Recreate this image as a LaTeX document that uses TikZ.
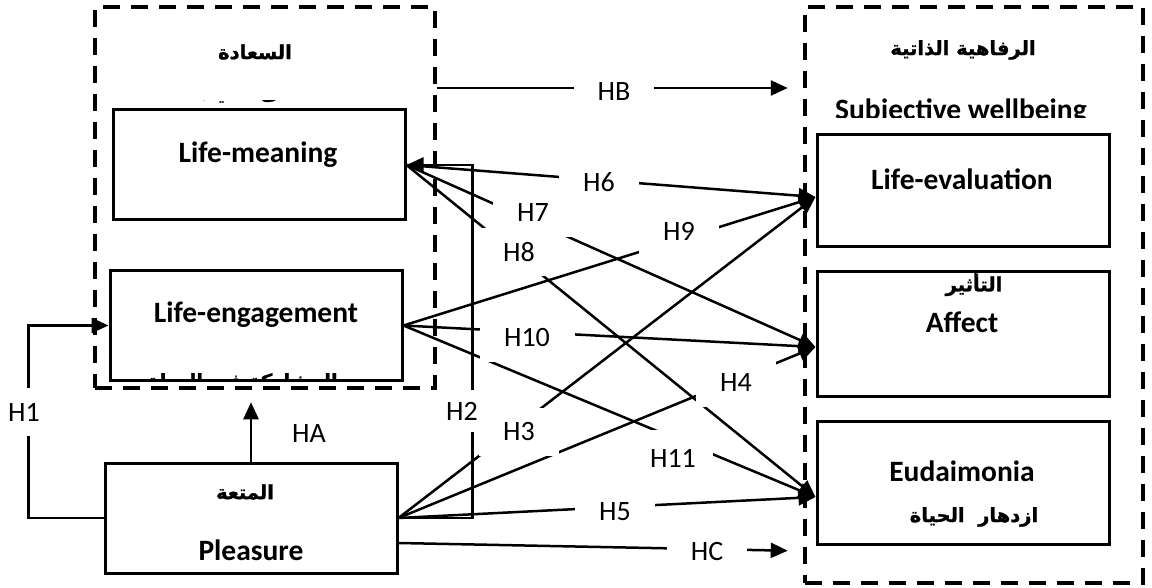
\documentclass[tikz,border=0pt]{standalone}
\usepackage{fontspec}
\setmainfont{Carlito}
\TeXXeTstate=1
\newfontfamily\arabicfont[Script=Arabic, BoldFeatures={FakeBold=1.2}]{DejaVu Sans}
\usetikzlibrary{arrows.meta}
\tikzset{
  box/.style={draw, line width=3pt, fill=white, minimum width=292pt, minimum height=110pt, inner sep=0pt},
  cont/.style={draw, line width=4.5pt, dash pattern=on 17pt off 11pt, inner sep=0pt},
  conn/.style={line width=2.5pt},
  arr/.style={conn, -{Triangle[length=17pt,width=15pt]}},
  hl/.style={fill=white, font=\fontsize{28}{32}\selectfont, minimum width=80pt, minimum height=48pt, inner sep=0pt},
  bl/.style={font=\bfseries\fontsize{29.5}{34}\selectfont, anchor=base, inner sep=0pt},
  ar/.style={font=\arabicfont\bfseries\fontsize{19.5}{23}\selectfont, inner sep=0pt},
}
\begin{document}
\begin{tikzpicture}[x=1pt,y=-1pt]
\useasboundingbox (0,0) rectangle (1152,588);
% containers
\node[cont, minimum width=340pt, minimum height=381pt] (lbox) at (265,197.5) {};
\node[cont, minimum width=338pt, minimum height=576pt] (rbox) at (974,295) {};
% boxes
\node[box] (meaning) at (259,165) {};
\node[box, minimum height=109pt] (engage) at (256,325.5) {};
\node[box] (pleasure) at (251,518) {};
\node[box, minimum height=112pt] (evaluation) at (963,191) {};
\node[box, minimum height=124pt] (affect) at (963,334) {};
\node[box, minimum height=123pt] (eudaimonia) at (963,482.5) {};
% texts in boxes
\node[bl] (tMeaning) at (258,163) {Life-meaning};
\node[bl] (tEngage) at (256,323) {Life-engagement};
\node[bl] (tPleasure) at (251,560) {Pleasure};
\node[bl] (tEval) at (962,190) {Life-evaluation};
\node[bl] (tAffect) at (962,332) {Affect};
\node[bl] (tEud) at (962,481) {Eudaimonia};
\node[ar] (tSaada) at (255,52) {\beginR السعادة\endR};
\node[ar] (tRafah) at (963,50) {\beginR الرفاهية الذاتية\endR};
\node[ar] (tTaath) at (974,284) {\beginR التأثير\endR};
\node[ar] (tIzd) at (974,517) {\beginR ازدهار\ \ الحياة\endR};
\node[ar] (tMut) at (245,492) {\beginR المتعة\endR};
% clipped texts
\begin{scope}
\clip (150,101) rectangle (340,109.5);
\node[ar, anchor=base] (tMana) at (255,99.5) {\beginR معنى الحياة\endR};
\end{scope}
\begin{scope}
\clip (150,366) rectangle (340,378.5);
\node[ar, anchor=base] (tMush) at (243,388) {\beginR المشاركة في الحياة\endR};
\end{scope}
\begin{scope}
\clip (820,80) rectangle (1100,118);
\node[bl] (tSub) at (961,120) {Subjective wellbeing};
\end{scope}
% helper coordinates
\coordinate (hby) at (0,88);
\coordinate (hcy) at (0,551);
% connectors
\draw[arr] (meaning.east) -- ([yshift=-6pt]evaluation.west);
\draw[arr] (meaning.east) -- ([yshift=-13pt]affect.west);
\draw[arr] (meaning.east) -- ([yshift=-14.5pt]eudaimonia.west);
\draw[arr] (engage.east) -- ([yshift=-6pt]evaluation.west);
\draw[arr] (engage.east) -- ([yshift=-13pt]affect.west);
\draw[arr] (engage.east) -- ([yshift=-14.5pt]eudaimonia.west);
\draw[arr] (pleasure.east) -- ([yshift=-6pt]evaluation.west);
\draw[arr] (pleasure.east) -- ([yshift=-13pt]affect.west);
\draw[arr] (pleasure.east) -- ([yshift=-14.5pt]eudaimonia.west);
\draw[arr] (pleasure.east) -| ([xshift=66pt]meaning.east) -- (meaning.east);
\draw[arr] (pleasure.west) -- ++(-75,0) |- (engage.west);
\draw[arr, shorten >=12pt] (pleasure.north) -- (pleasure.north |- lbox.south);
\draw[arr, shorten >=15pt] (lbox.east |- hby) -- (rbox.west |- hby);
\draw[arr, shorten >=15pt] ([yshift=-25pt]pleasure.east) -- (rbox.west |- hcy);
% labels
\node[hl] (lH6) at (599,182) {H6};
\node[hl] (lH7) at (533,213) {H7};
\node[hl] (lH8) at (519,252) {H8};
\node[hl] (lH9) at (679,231) {H9};
\node[hl, minimum width=95pt] (lH10) at (527,338) {H10};
\node[hl, minimum height=56pt] (lH11) at (673,458) {H11};
\node[hl] (lH3) at (519,432) {H3};
\node[hl] (lH4) at (736,383) {H4};
\node[hl] (lH5) at (615,512) {H5};
\node[hl, minimum height=42pt] (lH2) at (462,411) {H2};
\node[hl] (lH1) at (24,412) {H1};
\node[hl] (lHA) at (309,434) {HA};
\node[hl] (lHB) at (614,92) {HB};
\node[hl] (lHC) at (707,552) {HC};
\end{tikzpicture}
\end{document}
